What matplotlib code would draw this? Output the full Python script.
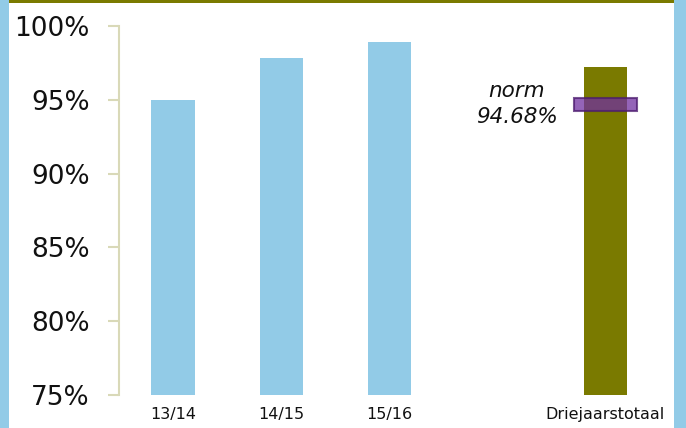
import matplotlib
matplotlib.use("Agg")
import matplotlib.pyplot as plt
from matplotlib.patches import Rectangle

# Data
categories = ["13/14", "14/15", "15/16", "Driejaarstotaal"]
positions = [0, 1, 2, 4]
values = [95.0, 97.8, 98.9, 97.2]
bar_colors = ["#92CBE7", "#92CBE7", "#92CBE7", "#7A7A00"]
norm_value = 94.68
y_ticks = [75, 80, 85, 90, 95, 100]

fig = plt.figure(figsize=(6.86, 4.28), dpi=100)
fig.patch.set_facecolor("white")

# Frame decorations: blue side bands and olive top line
W, H = 686, 428
fig.patches.append(Rectangle((0, 0), 9 / W, 1, transform=fig.transFigure,
                             facecolor="#92CBE7", edgecolor="none"))
fig.patches.append(Rectangle((674 / W, 0), 12 / W, 1, transform=fig.transFigure,
                             facecolor="#92CBE7", edgecolor="none"))
fig.patches.append(Rectangle((9 / W, 1 - 2.7 / H), 665 / W, 2.7 / H,
                             transform=fig.transFigure,
                             facecolor="#7A7A00", edgecolor="none"))

ax = fig.add_axes([119 / W, 33 / H, 540.5 / W, 369 / H])

ax.bar(positions, [v - 75 for v in values], bottom=75, width=0.4, color=bar_colors)

# Norm band on the three-year bar
band_h = 0.88
ax.bar(positions[-1], band_h, bottom=norm_value - band_h / 2, width=0.58,
       color="#7030A0", alpha=0.75, edgecolor="#4B1A6E", linewidth=1.5)
ax.text(3.18, norm_value + 0.05, f"norm\n{norm_value:.2f}%", style="italic",
        fontsize=15.5, ha="center", va="center", linespacing=1.4,
        color="#111111")

ax.set_xlim(-0.5, 4.5)
ax.set_ylim(75, 100)
ax.set_yticks(y_ticks)
ax.set_yticklabels([f"{t}%" for t in y_ticks], fontsize=19, color="#111111")
ax.set_xticks(positions)
ax.set_xticklabels(categories, fontsize=11.5, color="#111111")

for s in ["top", "right", "bottom"]:
    ax.spines[s].set_visible(False)
ax.spines["left"].set_color("#D9D9B8")
ax.spines["left"].set_linewidth(1.5)
ax.tick_params(axis="y", length=8, width=1.5, color="#D9D9B8", pad=13)
ax.tick_params(axis="x", length=0, pad=9)

fig.savefig("out.png", dpi=100)
